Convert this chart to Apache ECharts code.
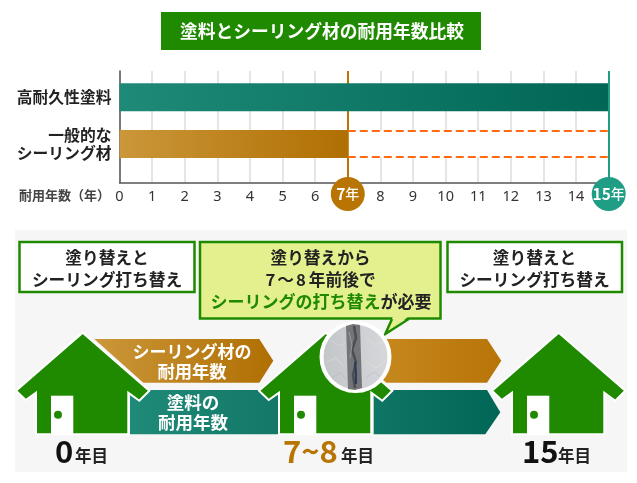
<!DOCTYPE html>
<html><head><meta charset="utf-8">
<style>html,body{margin:0;padding:0;background:#fff}#c{width:637px;height:483px}</style>
<script src="https://cdn.jsdelivr.net/npm/echarts@6/dist/echarts.min.js"></script>
</head><body><div id="c"></div>
<script>
const titleText = '塗料とシーリング材の耐用年数比較';
const categories = ['高耐久性塗料', '一般的な\nシーリング材'];
const lifeYears = [15, 7];
const gapRow = [[7, 15, 1]];
const tickLabels = ['0','1','2','3','4','5','6','','8','9','10','11','12','13','14',''];
const badgeYears = [7, 15];
const axisName = '耐用年数（年）';
const milestones = ['0', '7~8', '15'];
const FONT = '"Noto Sans CJK JP","Noto Sans",sans-serif';
const GREEN = '#1f8a00', AMBER = '#b87503', TEAL = '#1f9e85';

const grad = (a, b) => ({type:'linear',x:0,y:0,x2:1,y2:0,colorStops:[{offset:0,color:a},{offset:1,color:b}]});
const barFills = [grad('#1f8a78','#006655'), grad('#cb973a','#b06f02')];

/* lower diagram */
const txt = (text, x, y, size, fill, extra) => ({type:'text', z:30, silent:true, style:Object.assign({
  text, x, y, fill, font:`bold ${size}px ${FONT}`, align:'center', verticalAlign:'middle'}, extra||{})});
const box = (x, y, w, h, fill) => ({type:'rect', z:10, silent:true, shape:{x,y,width:w,height:h},
  style:{fill, stroke:GREEN, lineWidth:2.5}});
const house = dx => [
  {type:'polygon', z:20, silent:true, shape:{points:[
    [82.7,332.7],[149.3,390.7],[139.3,400.7],[128.3,392.7],[128.3,434.3],[36,434.3],[36,392.7],[25.7,400],[16,390.7]
  ].map(p=>[p[0]+dx,p[1]])}, style:{fill:GREEN, stroke:'#fff', lineWidth:2, lineJoin:'miter'}},
  {type:'rect', z:21, silent:true, shape:{x:51+dx,y:395.7,width:22.3,height:38.6}, style:{fill:'#fff'}},
  {type:'circle', z:22, silent:true, shape:{cx:58+dx,cy:414.7,r:4}, style:{fill:GREEN}}
];
const poly = (points, fill) => ({type:'polygon', z:5, silent:true, shape:{points}, style:{fill}});
const mottle = (pts, c) => ({type:'polyline', z:26, silent:true, shape:{points:pts}, style:{stroke:c, lineWidth:1, fill:null, opacity:.5}});

const diagram = [
  {type:'rect', z:1, silent:true, shape:{x:15,y:230,width:612,height:242}, style:{fill:'#f6f6f6'}},
  poly([[94.3,339],[259.3,339],[273.3,360.7],[259.3,382.7],[143.3,382.7]], grad('#cb973a','#b06f02')),
  poly([[130,390],[256,390],[278,390],[278,434.3],[130,434.3]], grad('#1f8a78','#137868')),
  poly([[337,339],[487,339],[501.3,360.7],[487,382.7],[386.3,382.7]], grad('#cb8f25','#b87407')),
  poly([[373.7,390],[487,390],[500.3,412.3],[485.3,434.3],[373.7,434.3]], grad('#0f7565','#006655')),
  ...house(0), ...house(243), ...house(476),
  box(19.5,242,175,50,'#fff'), box(447.5,242,174.5,50,'#fff'),
  box(200,242,240.5,76.5,'#e4f08e'),
  {type:'polygon', z:11, silent:true, shape:{points:[[393,316.5],[408.5,316.5],[385.3,334]]}, style:{fill:'#e4f08e'}},
  {type:'polyline', z:12, silent:true, shape:{points:[[392,319],[385.3,334],[408.7,319]]}, style:{stroke:GREEN,lineWidth:2.5,fill:null}},
  {type:'circle', z:25, silent:true, shape:{cx:355.5,cy:357,r:34}, style:{fill:grad('#c2c6c9','#d6d8da'), stroke:'#fff', lineWidth:4}},
  mottle([[330,340],[340,346],[345,343]],'#e2e4e5'), mottle([[326,362],[336,358],[344,366]],'#e0e2e3'),
  mottle([[332,378],[340,372],[346,380]],'#adb1b5'), mottle([[366,338],[376,345],[382,342]],'#e4e5e6'),
  mottle([[366,362],[376,368],[386,360]],'#e4e5e6'), mottle([[366,378],[374,372],[380,376]],'#adb1b5'),
  {type:'polygon', z:27, silent:true, shape:{points:[[346,326],[353,324],[360,325],[362,388],[355,390],[348,389]]}, style:{fill:'#747578'}},
  {type:'polyline', z:28, silent:true, shape:{points:[[354,326],[356,338],[352,350],[356,362],[353,375],[355,388]]}, style:{stroke:'#4c4d50',lineWidth:2.5,fill:null}},
  {type:'polyline', z:28, silent:true, shape:{points:[[349,332],[352,345],[350,358]]}, style:{stroke:'#999a9c',lineWidth:1,fill:null}},
  {type:'polyline', z:29, silent:true, shape:{points:[[355,362],[356,372],[356,384]]}, style:{stroke:'#26375a',lineWidth:1.8,fill:null}},
  txt('塗り替えと', 107, 258, 16.7, '#222'),
  txt('シーリング打ち替え', 107, 279.5, 16.7, '#222'),
  txt('塗り替えと', 534.5, 258, 16.7, '#222'),
  txt('シーリング打ち替え', 534.5, 279.5, 16.7, '#222'),
  txt('塗り替えから', 320.5, 258, 16.7, '#222'),
  {type:'text', z:30, silent:true, style:{text:'{k|7}{w|～}{r|8}{k|年前後で}', x:320.5, y:279.5, align:'center', verticalAlign:'middle',
    rich:{k:{fill:'#222',font:`bold 16.7px ${FONT}`}, w:{fill:'#222',font:`bold 16.7px ${FONT}`,padding:[0,2]}, r:{fill:'#222',font:`bold 16.7px ${FONT}`,padding:[0,3,0,0]}}}},
  {type:'text', z:30, silent:true, style:{text:'{g|シーリングの打ち替え}{k|が必要}', x:321, y:301.5, align:'center', verticalAlign:'middle',
    rich:{g:{fill:'#1f8a00',font:`bold 17px ${FONT}`}, k:{fill:'#222',font:`bold 17px ${FONT}`}}}},
  txt('シーリング材の', 192, 352, 17, '#fff'),
  txt('耐用年数', 192, 371.5, 17.3, '#fff'),
  txt('塗料の', 193, 402.5, 17.5, '#fff'),
  txt('耐用年数', 193, 422, 17.5, '#fff'),
  txt(milestones[0], 55, 451, 31, '#111', {align:'left'}),
  txt('年目', 75, 455.5, 16.5, '#222', {align:'left'}),
  txt(milestones[1], 283, 451, 31, AMBER, {align:'left'}),
  txt('年目', 341, 455.5, 16.5, '#222', {align:'left'}),
  txt(milestones[2], 522, 451, 31, '#111', {align:'left'}),
  txt('年目', 558, 455.5, 16.5, '#222', {align:'left'})
];

const chart = echarts.init(document.getElementById('c'), null, {renderer:'canvas'});
chart.setOption({
  animation:false,
  backgroundColor:'#fff',
  title:{text:titleText, left:161, top:12, padding:[10,17,10,19],
    backgroundColor:GREEN,
    textStyle:{color:'#fff', fontFamily:FONT, fontWeight:'bold', fontSize:17.75, lineHeight:18}},
  grid:[
    {left:119.5, right:28.3, top:73.8, height:93.6},
    {left:119.5, right:28.3, top:71, height:111.5}
  ],
  xAxis:[
    {gridIndex:0, type:'value', min:0, max:15, interval:1, show:false},
    {gridIndex:1, type:'value', min:0, max:15, interval:1,
      name:axisName, nameLocation:'start', nameGap:9.5,
      nameTextStyle:{fontFamily:FONT, fontSize:13, fontWeight:'bold', color:'#444', verticalAlign:'top', padding:[6,0,0,0], align:'right'},
      axisLine:{lineStyle:{color:'#555', width:1.5}},
      axisTick:{show:false},
      axisLabel:{margin:5, color:'#333', fontFamily:'"Noto Sans",sans-serif', fontSize:14.5, lineHeight:16, padding:[1,0,0,0], hideOverlap:false, showMinLabel:true, showMaxLabel:true,
        formatter:v=>tickLabels[v]},
      splitLine:{show:true, lineStyle:{color:'#dcdcdc', width:1.5}}}
  ],
  yAxis:[
    {gridIndex:0, type:'category', inverse:true, data:categories,
      axisLine:{show:false}, axisTick:{show:false}, 
      axisLabel:{margin:8, color:'#222', fontFamily:FONT, fontWeight:'bold', fontSize:15.8, lineHeight:18, align:'right'}},
    {gridIndex:1, type:'value', min:0, max:1, show:true,
      axisLine:{show:true, lineStyle:{color:'#555', width:1.5}}, axisTick:{show:false}, axisLabel:{show:false}, splitLine:{show:false}}
  ],
  series:[
    {type:'line', xAxisIndex:1, yAxisIndex:1, data:[], z:1, silent:true,
      markLine:{z:1, silent:true, symbol:'none', label:{show:false}, lineStyle:{color:AMBER,width:2,type:'solid'}, data:[{xAxis:badgeYears[0]}]}},
    {type:'custom', xAxisIndex:0, yAxisIndex:0, z:2, silent:true, clip:false, data:gapRow, encode:{x:[0,1],y:2},
      renderItem:(p,api)=>{
        const a=api.coord([api.value(0),api.value(2)]), b=api.coord([api.value(1),api.value(2)]);
        const h=api.size([0,1])[1]*0.277;
        const dash={stroke:'#ff6a13',lineWidth:2,lineDash:[8,4]};
        return {type:'group',children:[
          {type:'rect',shape:{x:a[0]+1,y:a[1]-h,width:b[0]-a[0]-1,height:2*h},style:{fill:'#fff'}},
          {type:'line',shape:{x1:a[0],y1:a[1]-h,x2:b[0],y2:a[1]-h},style:dash},
          {type:'line',shape:{x1:a[0],y1:a[1]+h,x2:b[0],y2:a[1]+h},style:dash}
        ]};
      }},
    {type:'bar', xAxisIndex:0, yAxisIndex:0, z:3, barWidth:28, silent:true,
      data:lifeYears.map((v,i)=>({value:v,itemStyle:{color:barFills[i]}}))},
    {type:'scatter', xAxisIndex:1, yAxisIndex:1, z:5, silent:true, clip:false, symbol:'circle', symbolSize:34,
      data:badgeYears.map((y,i)=>({value:[y,-0.103], itemStyle:{color:i?TEAL:AMBER, opacity:1}})),
      label:{show:true, position:'inside', formatter:p=>`{n|${p.value[0]}}{u|年}`,
        rich:{n:{color:'#fff',fontFamily:FONT,fontWeight:'bold',fontSize:15.5},u:{color:'#fff',fontFamily:FONT,fontWeight:500,fontSize:14}}},
      markLine:{z:4, silent:true, symbol:'none', label:{show:false}, lineStyle:{color:TEAL,width:2,type:'solid'}, data:[{xAxis:badgeYears[1]}]}}
  ],
  graphic:{elements:diagram}
});
</script></body></html>
